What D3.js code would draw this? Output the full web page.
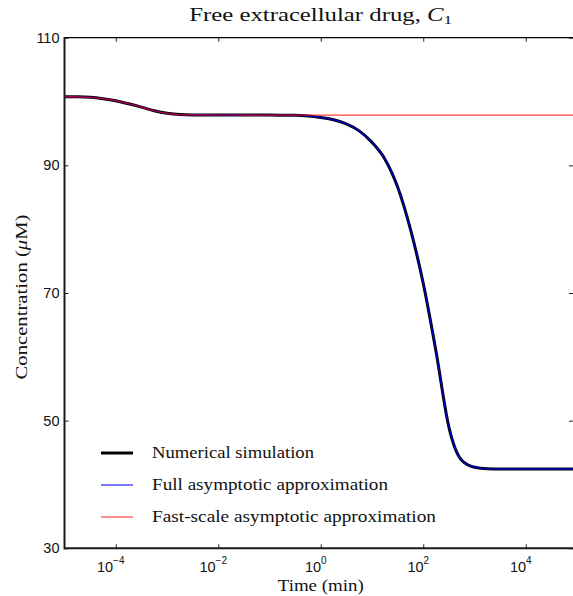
<!DOCTYPE html>
<html>
<head>
<meta charset="utf-8">
<script src="https://cdn.jsdelivr.net/npm/d3@7"></script>
<style>
  body { margin: 0; background: #fff; }
  svg { display: block; }
</style>
</head>
<body>
<div id="chartContainer"></div>
<script>
// time points (log10 of minutes)
var logTime = [-5.0, -4.75, -4.5, -4.25, -4.0, -3.75, -3.5, -3.25, -3.0, -2.75, -2.5, -2.0, -1.5, -1.0,
    -0.5, -0.25, 0.0, 0.25, 0.5, 0.75, 1.0, 1.25, 1.5, 1.75, 2.0, 2.25, 2.5, 2.75, 3.0, 3.25, 3.5, 4.0, 4.5, 5.0];

// Numerical simulation (uM)
var numerical = [100.76, 100.74, 100.66, 100.45, 100.13, 99.65, 99.12, 98.55, 98.15, 97.95, 97.9, 97.89, 97.88, 97.87,
    97.84, 97.74, 97.5, 97.15, 96.5, 95.4, 93.6, 91.0, 86.6, 80.0, 71.5, 60.8, 49.0, 43.8, 42.7, 42.45, 42.42, 42.42, 42.42, 42.42];

// Full asymptotic approximation (sits on top of the numerical one)
var fullAsym = [100.76, 100.74, 100.66, 100.45, 100.13, 99.65, 99.12, 98.55, 98.15, 97.95, 97.9, 97.89, 97.88, 97.87,
    97.84, 97.74, 97.5, 97.15, 96.5, 95.4, 93.6, 91.0, 86.6, 80.0, 71.5, 60.8, 49.0, 43.8, 42.7, 42.45, 42.42, 42.42, 42.42, 42.42];

// Fast-scale asymptotic approximation (levels off on the plateau)
var fastAsym = [100.76, 100.74, 100.66, 100.45, 100.13, 99.65, 99.12, 98.55, 98.15, 97.95, 97.9, 97.89, 97.88, 97.87,
    97.87, 97.87, 97.87, 97.87, 97.87, 97.87, 97.87, 97.87, 97.87, 97.87, 97.87, 97.87, 97.87, 97.87, 97.87, 97.87, 97.87, 97.87, 97.87, 97.87];

var xTickExp = [-4, -2, 0, 2, 4];
var yTicks = [30, 50, 70, 90, 110];
var legendNames = ["Numerical simulation", "Full asymptotic approximation", "Fast-scale asymptotic approximation"];

var width = 573, height = 596;
var plot = { left: 64.5, right: 577, top: 37.7, bottom: 548.3 };

var serif = "'Liberation Serif', 'Times New Roman', serif";
var sans = "'Liberation Sans', Arial, sans-serif";

const svg = d3.select("#chartContainer")
    .append("svg")
    .attr("width", width)
    .attr("height", height);

const x = d3.scaleLog()
    .domain([1e-5, 1e5])
    .range([plot.left, plot.right]);

const y = d3.scaleLinear()
    .domain([30, 110])
    .range([plot.bottom, plot.top]);

svg.append("clipPath").attr("id", "clip")
    .append("rect")
    .attr("x", plot.left).attr("y", plot.top)
    .attr("width", plot.right - plot.left)
    .attr("height", plot.bottom - plot.top);

function toPoints(values) {
    return values.map(function (v, i) { return { t: Math.pow(10, logTime[i]), c: v }; });
}

let line = d3.line()
    .x(function (d) { return x(d.t) })
    .y(function (d) { return y(d.c) })
    .curve(d3.curveMonotoneX);

var series = [
    { name: legendNames[0], values: numerical, color: "#000", width: 3, opacity: 1 },
    { name: legendNames[1], values: fullAsym, color: "#0000ff", width: 1.4, opacity: 0.75 },
    { name: legendNames[2], values: fastAsym, color: "#ff0000", width: 1.2, opacity: 0.75 }
];

var lines = svg.append("g").attr("clip-path", "url(#clip)");
series.forEach(function (s) {
    lines.append("path")
        .datum(toPoints(s.values))
        .attr("fill", "none")
        .attr("stroke", s.color)
        .attr("stroke-opacity", s.opacity)
        .attr("stroke-width", s.width)
        .attr("stroke-linejoin", "round")
        .attr("d", line);
});

// ticks, inward on all four sides
var xTickVals = xTickExp.map(function (e) { return Math.pow(10, e); });

svg.append("g")
    .attr("transform", `translate(0, ${plot.bottom})`)
    .call(d3.axisBottom(x).tickValues(xTickVals).tickSizeInner(-4).tickSizeOuter(0).tickFormat(""))
    .call(function (g) { g.select(".domain").remove(); });
svg.append("g")
    .attr("transform", `translate(0, ${plot.top})`)
    .call(d3.axisTop(x).tickValues(xTickVals).tickSizeInner(-4).tickSizeOuter(0).tickFormat(""))
    .call(function (g) { g.select(".domain").remove(); });
svg.append("g")
    .attr("transform", `translate(${plot.left}, 0)`)
    .call(d3.axisLeft(y).tickValues(yTicks).tickSizeInner(-4).tickSizeOuter(0).tickFormat(""))
    .call(function (g) { g.select(".domain").remove(); });
svg.append("g")
    .attr("transform", `translate(${width}, 0)`)
    .call(d3.axisRight(y).tickValues(yTicks).tickSizeInner(-4).tickSizeOuter(0).tickFormat(""))
    .call(function (g) { g.select(".domain").remove(); });
svg.selectAll(".tick line").attr("stroke", "#222").attr("stroke-width", 1);

// spines
svg.append("line").attr("x1", plot.left).attr("x2", plot.right).attr("y1", plot.top).attr("y2", plot.top)
    .attr("stroke", "#000").attr("stroke-width", 1.3);
svg.append("line").attr("x1", plot.left).attr("x2", plot.right).attr("y1", plot.bottom).attr("y2", plot.bottom)
    .attr("stroke", "#1a1a1a").attr("stroke-width", 2);
svg.append("line").attr("x1", plot.left).attr("x2", plot.left).attr("y1", plot.top - 0.6).attr("y2", plot.bottom + 1)
    .attr("stroke", "#1a1a1a").attr("stroke-width", 2);

// x tick labels: 10 with superscript exponent
var xl = svg.append("g").attr("font-family", sans).attr("fill", "#111");
xTickExp.forEach(function (e) {
    var t = xl.append("text")
        .attr("x", x(Math.pow(10, e)) - 5)
        .attr("y", 572)
        .attr("text-anchor", "middle")
        .attr("font-size", 14.5);
    t.append("tspan").text("10");
    t.append("tspan")
        .attr("font-size", 10)
        .attr("dy", -8.5)
        .text(e < 0 ? "\u2212" + (-e) : "" + e);
});

// y tick labels
svg.append("g").attr("font-family", sans).attr("fill", "#111")
    .selectAll("text")
    .data(yTicks)
    .join("text")
    .attr("x", 59.5)
    .attr("y", function (d) { return y(d) + 5; })
    .attr("text-anchor", "end")
    .attr("font-size", 14.5)
    .text(function (d) { return d; });

// title
var title = svg.append("text")
    .attr("x", (plot.left + plot.right) / 2)
    .attr("y", 21)
    .attr("text-anchor", "middle")
    .attr("font-family", serif)
    .attr("font-size", 18.5)
    .attr("fill", "#111");
title.append("tspan").text("Free extracellular drug, ");
title.append("tspan").attr("font-style", "italic").text("C");
title.append("tspan").attr("font-size", 13).attr("dy", 3).text("1");

// axis labels
var xLabel = svg.append("text")
    .attr("x", (plot.left + plot.right) / 2)
    .attr("y", 591)
    .attr("text-anchor", "middle")
    .attr("font-family", serif)
    .attr("font-size", 17)
    .attr("fill", "#111")
    .text("Time (min)");

var yLabel = svg.append("text")
    .attr("transform", "translate(27, 297) rotate(-90)")
    .attr("text-anchor", "middle")
    .attr("font-family", serif)
    .attr("font-size", 17)
    .attr("fill", "#111");
yLabel.append("tspan").text("Concentration (");
yLabel.append("tspan").attr("font-style", "italic").text("\u03bc");
yLabel.append("tspan").text("M)");

// legend
var legendY = [453, 485, 517];
var legendWidths = [162, 236, 284];
var legend = svg.append("g");
series.forEach(function (s, i) {
    legend.append("line")
        .attr("x1", 101).attr("x2", 133)
        .attr("y1", legendY[i]).attr("y2", legendY[i])
        .attr("stroke", s.color)
        .attr("stroke-opacity", s.opacity)
        .attr("stroke-width", s.width);
    legend.append("text")
        .attr("x", 152)
        .attr("y", legendY[i] + 5)
        .attr("font-family", serif)
        .attr("font-size", 17.5)
        .attr("fill", "#111")
        .attr("textLength", legendWidths[i])
        .attr("lengthAdjust", "spacingAndGlyphs")
        .text(s.name);
});

// stretch the serif text to the widths seen in the picture (Computer Modern is wider than Times)
function fitWidth(sel, target) {
    sel.attr("textLength", target).attr("lengthAdjust", "spacingAndGlyphs");
}
fitWidth(title, 263);
fitWidth(yLabel, 165);
fitWidth(xLabel, 86);
</script>
</body>
</html>
